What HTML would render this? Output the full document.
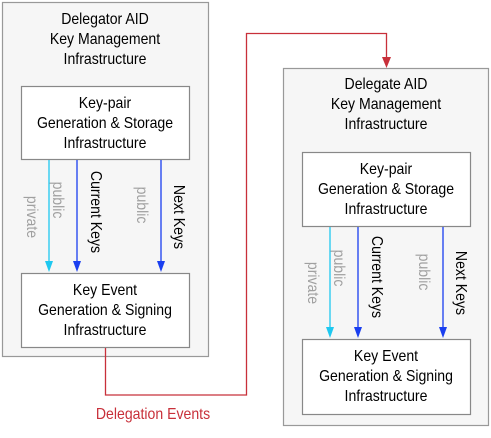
<!DOCTYPE html>
<html><head><style>
html,body{margin:0;padding:0;background:#fff;}
svg text{font-family:"Liberation Sans Narrow","Liberation Sans",sans-serif;font-size:16px;text-anchor:middle;}
</style></head><body>
<svg width="491" height="433" viewBox="0 0 491 433" xmlns="http://www.w3.org/2000/svg">
<!-- left -->
<rect x="2.5" y="2.5" width="206" height="354" fill="#f6f6f6" stroke="#999" stroke-width="1.2"/>
<text transform="translate(105,24) scale(0.88,1)">Delegator AID</text>
<text transform="translate(105,44) scale(0.88,1)">Key Management</text>
<text transform="translate(105,64) scale(0.88,1)">Infrastructure</text>
<rect x="21.5" y="86.5" width="168" height="73" fill="#fff" stroke="#888" stroke-width="1.2"/>
<text transform="translate(105,108) scale(0.88,1)">Key-pair</text>
<text transform="translate(105,128) scale(0.88,1)">Generation &amp; Storage</text>
<text transform="translate(105,148) scale(0.88,1)">Infrastructure</text>
<rect x="21.5" y="273.5" width="168" height="74" fill="#fff" stroke="#888" stroke-width="1.2"/>
<text transform="translate(105,295) scale(0.88,1)">Key Event</text>
<text transform="translate(105,315) scale(0.88,1)">Generation &amp; Signing</text>
<text transform="translate(105,335) scale(0.88,1)">Infrastructure</text>
<line x1="49" y1="160" x2="49" y2="262" stroke="#1ec8f0" stroke-width="1.3"/>
<path d="M45,261 L53,261 L49,272 Z" fill="#1ec8f0"/>
<line x1="77" y1="160" x2="77" y2="262" stroke="#1a3ff0" stroke-width="1.3"/>
<path d="M73,261 L81,261 L77,272 Z" fill="#1a3ff0"/>
<line x1="161" y1="160" x2="161" y2="262" stroke="#1a3ff0" stroke-width="1.3"/>
<path d="M157,261 L165,261 L161,272 Z" fill="#1a3ff0"/>
<text transform="translate(27,217) rotate(90) scale(0.88,1)" fill="#a0a0a0">private</text>
<text transform="translate(53,200) rotate(90) scale(0.88,1)" fill="#a0a0a0">public</text>
<text transform="translate(91,212) rotate(90) scale(0.88,1)">Current Keys</text>
<text transform="translate(137,205) rotate(90) scale(0.88,1)" fill="#a0a0a0">public</text>
<text transform="translate(174,217) rotate(90) scale(0.88,1)">Next Keys</text>
<!-- right -->
<rect x="283.5" y="68.5" width="205" height="357" fill="#f6f6f6" stroke="#999" stroke-width="1.2"/>
<text transform="translate(386,89) scale(0.88,1)">Delegate AID</text>
<text transform="translate(386,109) scale(0.88,1)">Key Management</text>
<text transform="translate(386,129) scale(0.88,1)">Infrastructure</text>
<rect x="302.5" y="152.5" width="168" height="74" fill="#fff" stroke="#888" stroke-width="1.2"/>
<text transform="translate(386,174) scale(0.88,1)">Key-pair</text>
<text transform="translate(386,194) scale(0.88,1)">Generation &amp; Storage</text>
<text transform="translate(386,214) scale(0.88,1)">Infrastructure</text>
<rect x="302.5" y="339.5" width="168" height="75" fill="#fff" stroke="#888" stroke-width="1.2"/>
<text transform="translate(386,361) scale(0.88,1)">Key Event</text>
<text transform="translate(386,381) scale(0.88,1)">Generation &amp; Signing</text>
<text transform="translate(386,401) scale(0.88,1)">Infrastructure</text>
<line x1="330" y1="227" x2="330" y2="328" stroke="#1ec8f0" stroke-width="1.3"/>
<path d="M326,327 L334,327 L330,338 Z" fill="#1ec8f0"/>
<line x1="358" y1="227" x2="358" y2="328" stroke="#1a3ff0" stroke-width="1.3"/>
<path d="M354,327 L362,327 L358,338 Z" fill="#1a3ff0"/>
<line x1="443" y1="227" x2="443" y2="328" stroke="#1a3ff0" stroke-width="1.3"/>
<path d="M439,327 L447,327 L443,338 Z" fill="#1a3ff0"/>
<text transform="translate(308,283) rotate(90) scale(0.88,1)" fill="#a0a0a0">private</text>
<text transform="translate(334,268) rotate(90) scale(0.88,1)" fill="#a0a0a0">public</text>
<text transform="translate(372,277) rotate(90) scale(0.88,1)">Current Keys</text>
<text transform="translate(419,272) rotate(90) scale(0.88,1)" fill="#a0a0a0">public</text>
<text transform="translate(456,283) rotate(90) scale(0.88,1)">Next Keys</text>
<!-- red connector -->
<path d="M105.5,348 L105.5,395 L246.5,395 L246.5,33.5 L386.5,33.5 L386.5,58" fill="none" stroke="#c8303a" stroke-width="1.3"/>
<path d="M382,57 L391,57 L386.5,68 Z" fill="#c8303a"/>
<text transform="translate(153,419) scale(0.88,1)" fill="#c8303a">Delegation Events</text>
</svg>
</body></html>
